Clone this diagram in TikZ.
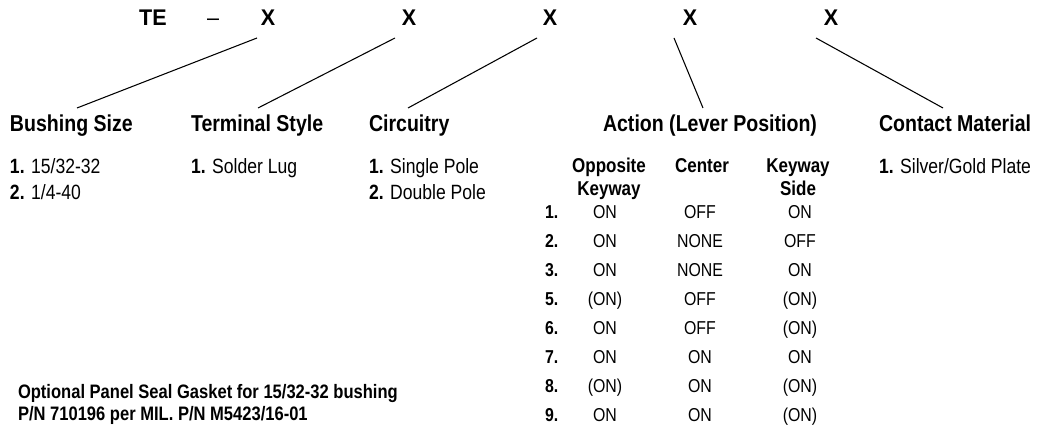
\documentclass[tikz,border=0pt]{standalone}
\usepackage{fontspec}
\setmainfont{Liberation Sans}[FakeStretch=0.85]
\newfontfamily\topfont{Liberation Sans}[FakeStretch=0.95]
\begin{document}
\begin{tikzpicture}[x=0.75pt,y=-0.75pt,
  every node/.style={inner sep=0pt,outer sep=0pt},
  xl/.style={font=\topfont\bfseries\fontsize{17}{20}\selectfont,anchor=base},
  hdr/.style={font=\bfseries\fontsize{17.25}{20}\selectfont,anchor=base west},
  itm/.style={font=\fontsize{15.5}{18}\selectfont,anchor=base west},
  thd/.style={font=\bfseries\fontsize{15}{18}\selectfont,anchor=base},
  cell/.style={font=\fontsize{14}{17}\selectfont,anchor=base},
  num/.style={font=\bfseries\fontsize{14}{17}\selectfont,anchor=base west},
  note/.style={font=\bfseries\fontsize{14.6}{17}\selectfont,anchor=base west},
  conn/.style={line width=0.8pt}]
\useasboundingbox (0,0) rectangle (1040,441);
% top code
\node[xl] (te) at (153,26) {TE};
\node[xl,font=\topfont\fontsize{17}{20}\selectfont] (dash) at (213,26) {–};
\node[xl] (x1) at (268,26) {X};
\node[xl] (x2) at (409,26) {X};
\node[xl] (x3) at (550,26) {X};
\node[xl] (x4) at (690,26) {X};
\node[xl] (x5) at (831,26) {X};
% headers
\node[hdr] (h1) at (10,132) {Bushing Size};
\node[hdr] (h2) at (191,132) {Terminal Style};
\node[hdr] (h3) at (369,132) {Circuitry};
\node[hdr,anchor=base] (h4) at (710,132) {Action (Lever Position)};
\node[hdr] (h5) at (879,132) {Contact Material};
% connectors
\draw[conn] ([shift={(-11,12)}]x1.base) -- ([shift={(67,-24)}]h1.base west);
\draw[conn] ([shift={(-14,12)}]x2.base) -- ([shift={(67,-24)}]h2.base west);
\draw[conn] ([shift={(-13,12)}]x3.base) -- ([shift={(39,-24)}]h3.base west);
\draw[conn] ([shift={(-16,12)}]x4.base) -- ([shift={(-7,-24)}]h4.base);
\draw[conn] ([shift={(-15,12)}]x5.base) -- ([shift={(64,-24)}]h5.base west);
% options
\node[itm] (b1) at (10,174) {\textbf{1.} 15/32-32};
\node[itm] (b2) at (10,200) {\textbf{2.} 1/4-40};
\node[itm] (t1) at (191,174) {\textbf{1.} Solder Lug};
\node[itm] (c1) at (369,174) {\textbf{1.} Single Pole};
\node[itm] (c2) at (369,200) {\textbf{2.} Double Pole};
\node[itm] (m1) at (879,174) {\textbf{1.} Silver/Gold Plate};
% table headers
\node[thd] (ok1) at (609,173) {Opposite};
\node[thd] (ok2) at (609,196) {Keyway};
\node[thd] (ce) at (702,173) {Center};
\node[thd] (ks1) at (798,173) {Keyway};
\node[thd] (ks2) at (798,196) {Side};
% table rows
\foreach \n/\a/\b/\c [count=\i from 0] in {1/ON/OFF/ON,2/ON/NONE/OFF,3/ON/NONE/ON,5/(ON)/OFF/(ON),6/ON/OFF/(ON),7/ON/ON/ON,8/(ON)/ON/(ON),9/ON/ON/(ON)}{
  \pgfmathsetmacro{\yy}{219+28.9*\i}
  \node[num] (r\n) at (545,\yy) {\n.};
  \node[cell] (ra\n) at (605,\yy) {\a};
  \node[cell] (rb\n) at (700,\yy) {\b};
  \node[cell] (rc\n) at (800,\yy) {\c};
}
% note
\node[note] (n1) at (18,399) {Optional Panel Seal Gasket for 15/32-32 bushing};
\node[note] (n2) at (18,421) {P/N 710196 per MIL. P/N M5423/16-01};
\end{tikzpicture}
\end{document}
